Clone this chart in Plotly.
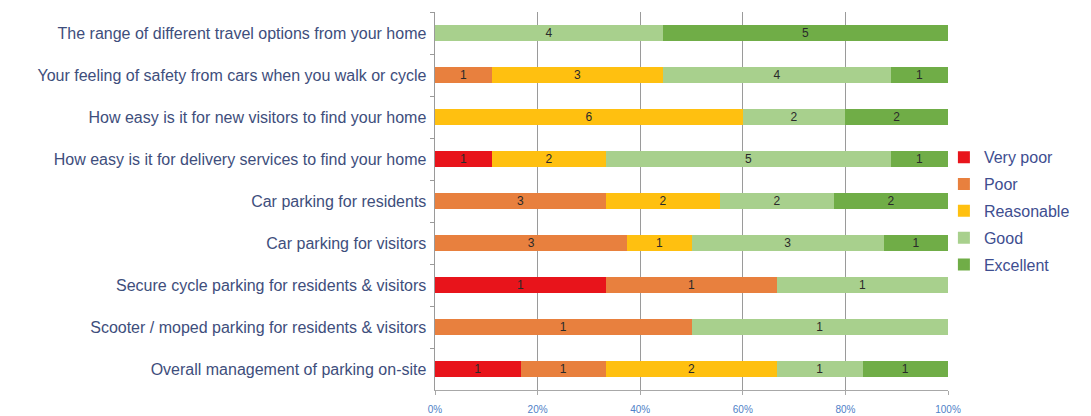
import plotly.graph_objects as go

questions = [
    "The range of different travel options from your home",
    "Your feeling of safety from cars when you walk or cycle",
    "How easy is it for new visitors to find your home",
    "How easy is it for delivery services to find your home",
    "Car parking for residents",
    "Car parking for visitors",
    "Secure cycle parking for residents & visitors",
    "Scooter / moped parking for residents & visitors",
    "Overall management of parking on-site",
]

very_poor = [None, None, None, 1, None, None, 1, None, 1]
poor = [None, 1, None, None, 3, 3, 1, 1, 1]
reasonable = [None, 3, 6, 2, 2, 1, None, None, 2]
good = [4, 4, 2, 5, 2, 3, 1, 1, 1]
excellent = [5, 1, 2, 1, 2, 1, None, None, 1]

series = [
    ("Very poor", very_poor, "#E8141B"),
    ("Poor", poor, "#E8803E"),
    ("Reasonable", reasonable, "#FFC010"),
    ("Good", good, "#A8D08D"),
    ("Excellent", excellent, "#70AD47"),
]

x_ticks = [0, 0.2, 0.4, 0.6, 0.8, 1.0]
x_tick_labels = ["0%", "20%", "40%", "60%", "80%", "100%"]

fig = go.Figure()
for name, vals, color in series:
    fig.add_trace(go.Bar(
        y=questions,
        x=vals,
        name=name,
        orientation="h",
        marker=dict(color=color, line=dict(width=0)),
        text=vals,
        texttemplate="%{text}",
        textposition="inside",
        insidetextanchor="middle",
        constraintext="none",
        textangle=0,
        textfont=dict(family="Liberation Sans, Arial", size=12, color="#2a2a2a"),
        legendgroup=name,
        hoverinfo="x+y+name",
    ))

fig.update_layout(
    width=1091,
    height=416,
    barmode="stack",
    barnorm="fraction",
    bargap=0.6,
    plot_bgcolor="white",
    paper_bgcolor="white",
    margin=dict(l=435, r=143, t=12, b=26, autoexpand=False),
    font=dict(family="Liberation Sans, Arial", size=16, color="#3E4E7C"),
    showlegend=True,
    legend=dict(
        x=0.992, y=0.474, xanchor="left", yanchor="middle",
        font=dict(size=16, color="#3E4E90"),
        tracegroupgap=3,
        itemwidth=30,
        bgcolor="rgba(0,0,0,0)",
    ),
)

fig.update_xaxes(
    range=[0, 1],
    tickvals=x_ticks,
    ticktext=x_tick_labels,
    tickfont=dict(size=10, color="#4F7FC8"),
    ticklabelstandoff=6,
    showgrid=True,
    gridcolor="#9A9A9A",
    gridwidth=1,
    zeroline=False,
    showline=True,
    linecolor="#A8A8A8",
    ticks="outside",
    ticklen=4,
    tickcolor="#A8A8A8",
    automargin=False,
    fixedrange=True,
)

fig.update_yaxes(
    categoryorder="array",
    categoryarray=questions,
    autorange="reversed",
    showline=True,
    linecolor="#9A9A9A",
    ticks="outside",
    tickson="boundaries",
    ticklen=4,
    tickcolor="#9A9A9A",
    showgrid=False,
    ticksuffix=" ",
    automargin=False,
    tickfont=dict(size=16, color="#3E4E7C"),
)

fig.write_html("out.html")
